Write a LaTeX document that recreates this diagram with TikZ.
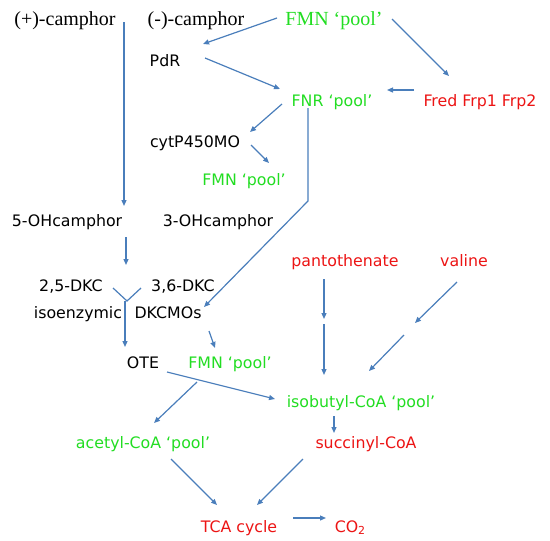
\documentclass[tikz,border=0pt]{standalone}
\usepackage{fontspec}
\setmainfont{Liberation Serif}
\newfontfamily\dvs{DejaVu Sans}
\usetikzlibrary{arrows.meta}
\definecolor{lgreen}{RGB}{34,221,34}
\definecolor{lred}{RGB}{236,20,20}
\definecolor{lblue}{RGB}{74,126,187}
\tikzset{
  lbl/.style={inner sep=0pt, anchor=base, font=\dvs\fontsize{15.8}{18}\selectfont},
  slbl/.style={inner sep=0pt, anchor=base, font=\fontsize{20}{22}\selectfont},
  blk/.style={text=black},
  grn/.style={text=lgreen},
  rd/.style={text=lred},
  conn/.style={draw=lblue, line width=1.2pt},
  arr/.style={conn, -{Triangle[length=6pt,width=5pt]}},
}
\begin{document}
\begin{tikzpicture}[x=1pt,y=-1pt]
\useasboundingbox (0,0) rectangle (550,541);
% labels
\node[slbl,blk] (pcam) at (65,25) {(+)-camphor};
\node[slbl,blk] (mcam) at (196,25) {(-)-camphor};
\node[slbl,grn] (fmn1) at (334,25) {FMN ‘pool’};
\node[lbl,blk] (pdr) at (165,66) {PdR};
\node[lbl,grn] (fnr) at (332,106) {FNR ‘pool’};
\node[lbl,rd] (fred) at (480,106) {Fred Frp1 Frp2};
\node[lbl,blk] (cyt) at (195,147) {cytP450MO};
\node[lbl,grn] (fmn2) at (244,185) {FMN ‘pool’};
\node[lbl,blk] (oh5) at (67,226) {5-OHcamphor};
\node[lbl,blk] (oh3) at (218,226) {3-OHcamphor};
\node[lbl,blk] (dkc25) at (71,291) {2,5-DKC};
\node[lbl,blk] (dkc36) at (183,291) {3,6-DKC};
\node[lbl,blk] (iso) at (78,318) {isoenzymic};
\node[lbl,blk] (dkcmo) at (168,318) {DKCMOs};
\node[lbl,blk] (ote) at (143,368) {OTE};
\node[lbl,grn] (fmn3) at (230,368) {FMN ‘pool’};
\node[lbl,rd] (pant) at (345,266) {pantothenate};
\node[lbl,rd] (val) at (464,266) {valine};
\node[lbl,grn] (isob) at (361,407) {isobutyl-CoA ‘pool’};
\node[lbl,grn] (acet) at (143,448) {acetyl-CoA ‘pool’};
\node[lbl,rd] (succ) at (366,448) {succinyl-CoA};
\node[lbl,rd] (tca) at (239,532) {TCA cycle};
\node[lbl,rd] (co2) at (350,532) {CO\raisebox{-0.25ex}{\fontsize{11}{12}\selectfont 2}};
% connector end points
\coordinate (a1s) at (277,18);  \coordinate (a1e) at (203,44);
\coordinate (a2s) at (205,58);  \coordinate (a2e) at (280,89);
\coordinate (a3s) at (282,104); \coordinate (a3e) at (250,132);
\coordinate (a4s) at (251,145); \coordinate (a4e) at (269,163);
\coordinate (a5s) at (392,19);  \coordinate (a5e) at (449,76);
\coordinate (a6s) at (414,90);  \coordinate (a6e) at (387,90);
\coordinate (a7s) at (308,108); \coordinate (a7m) at (308,201); \coordinate (a7e) at (204,307);
\coordinate (a8s) at (124,22);  \coordinate (a8e) at (124,206);
\coordinate (a9s) at (126,237); \coordinate (a9e) at (126,265);
\coordinate (yl) at (113,288);  \coordinate (yr) at (141,288); \coordinate (yj) at (127,301);
\coordinate (y0) at (125,301);  \coordinate (ye) at (125,347);
\coordinate (b1s) at (209,331); \coordinate (b1e) at (215,348);
\coordinate (b2s) at (167,372); \coordinate (b2e) at (275,399);
\coordinate (b3s) at (197,382); \coordinate (b3e) at (154,423);
\coordinate (b4s) at (171,459); \coordinate (b4e) at (217,505);
\coordinate (b5s) at (303,459); \coordinate (b5e) at (257,505);
\coordinate (b6s) at (293,518); \coordinate (b6e) at (326,518);
\coordinate (b7s) at (334,416); \coordinate (b7e) at (334,433);
\coordinate (p1s) at (324,279); \coordinate (p1e) at (324,319);
\coordinate (p2s) at (324,324); \coordinate (p2e) at (324,375);
\coordinate (v1s) at (457,282); \coordinate (v1e) at (415,323);
\coordinate (v2s) at (404,335); \coordinate (v2e) at (369,371);
% connectors
\draw[arr] (a1s) -- (a1e);
\draw[arr] (a2s) -- (a2e);
\draw[arr] (a3s) -- (a3e);
\draw[arr] (a4s) -- (a4e);
\draw[arr] (a5s) -- (a5e);
\draw[arr] (a6s) -- (a6e);
\draw[arr] (a7s) -- (a7m) -- (a7e);
\draw[arr] (a8s) -- (a8e);
\draw[arr] (a9s) -- (a9e);
\draw[conn] (yl) -- (yj) -- (yr);
\draw[arr] (y0) -- (ye);
\draw[arr] (b1s) -- (b1e);
\draw[arr] (b2s) -- (b2e);
\draw[arr] (b3s) -- (b3e);
\draw[arr] (b4s) -- (b4e);
\draw[arr] (b5s) -- (b5e);
\draw[arr] (b6s) -- (b6e);
\draw[arr] (b7s) -- (b7e);
\draw[arr] (p1s) -- (p1e);
\draw[arr] (p2s) -- (p2e);
\draw[arr] (v1s) -- (v1e);
\draw[arr] (v2s) -- (v2e);
\end{tikzpicture}
\end{document}
